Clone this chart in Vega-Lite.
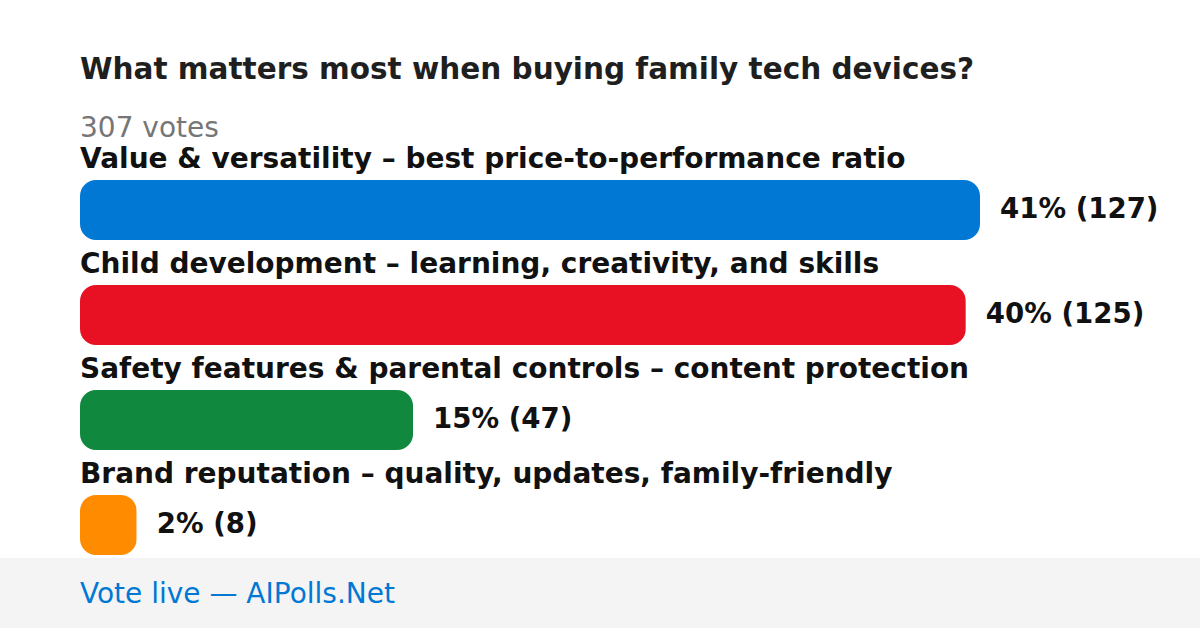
{
  "$schema": "https://vega.github.io/schema/vega-lite/v6.json",
  "background": "white",
  "padding": {"top": 55, "left": 0, "right": 0, "bottom": 0},
  "spacing": 0,
  "title": {
    "text": "What matters most when buying family tech devices?",
    "subtitle": "307 votes",
    "anchor": "start",
    "dx": 80,
    "font": "DejaVu Sans",
    "fontSize": 29.5,
    "fontWeight": "bold",
    "color": "#1f1f1f",
    "subtitleFont": "DejaVu Sans",
    "subtitleFontSize": 28,
    "subtitleFontWeight": "normal",
    "subtitleColor": "#767676",
    "subtitlePadding": 29.5,
    "offset": -6
  },
  "config": {"view": {"stroke": null}},
  "vconcat": [
    {
      "width": 1200,
      "height": 420,
      "data": {
        "values": [
          {"option": "Value & versatility – best price-to-performance ratio", "votes": 127, "label": "41% (127)"},
          {"option": "Child development – learning, creativity, and skills", "votes": 125, "label": "40% (125)"},
          {"option": "Safety features & parental controls – content protection", "votes": 47, "label": "15% (47)"},
          {"option": "Brand reputation – quality, updates, family-friendly", "votes": 8, "label": "2% (8)"}
        ]
      },
      "encoding": {
        "y": {"field": "option", "type": "nominal", "sort": null, "scale": {"paddingInner": 0, "paddingOuter": 0}, "axis": null}
      },
      "layer": [
        {
          "mark": {"type": "bar", "height": 60, "yOffset": 19.5, "cornerRadius": 16},
          "encoding": {
            "x": {"field": "votes", "type": "quantitative", "scale": {"domain": [0, 127], "range": [80, 980], "nice": false}, "axis": null},
            "color": {
              "field": "option", "type": "nominal", "sort": null, "legend": null,
              "scale": {
                "domain": [
                  "Value & versatility – best price-to-performance ratio",
                  "Child development – learning, creativity, and skills",
                  "Safety features & parental controls – content protection",
                  "Brand reputation – quality, updates, family-friendly"
                ],
                "range": ["#0078d4", "#e81123", "#10893e", "#ff8c00"]
              }
            }
          }
        },
        {
          "mark": {"type": "text", "align": "left", "baseline": "alphabetic", "yOffset": -22.5, "font": "DejaVu Sans", "fontSize": 28, "fontWeight": "bold", "color": "#111111"},
          "encoding": {
            "x": {"datum": 0, "type": "quantitative"},
            "text": {"field": "option"}
          }
        },
        {
          "mark": {"type": "text", "align": "left", "baseline": "middle", "dx": 20, "yOffset": 19.5, "font": "DejaVu Sans", "fontSize": 27.6, "fontWeight": "bold", "color": "#111111"},
          "encoding": {
            "x": {"field": "votes", "type": "quantitative"},
            "text": {"field": "label"}
          }
        }
      ]
    },
    {
      "width": 1200,
      "height": 70,
      "view": {"fill": "#f4f4f4", "stroke": null},
      "data": {"values": [{"text": "Vote live — AIPolls.Net", "start": 0}]},
      "mark": {"type": "text", "align": "left", "baseline": "middle", "dy": 2, "font": "DejaVu Sans", "fontSize": 28, "color": "#0078d4"},
      "encoding": {
        "x": {"field": "start", "type": "quantitative", "scale": {"domain": [0, 127], "range": [80, 980], "nice": false}, "axis": null},
        "text": {"field": "text"}
      }
    }
  ]
}
